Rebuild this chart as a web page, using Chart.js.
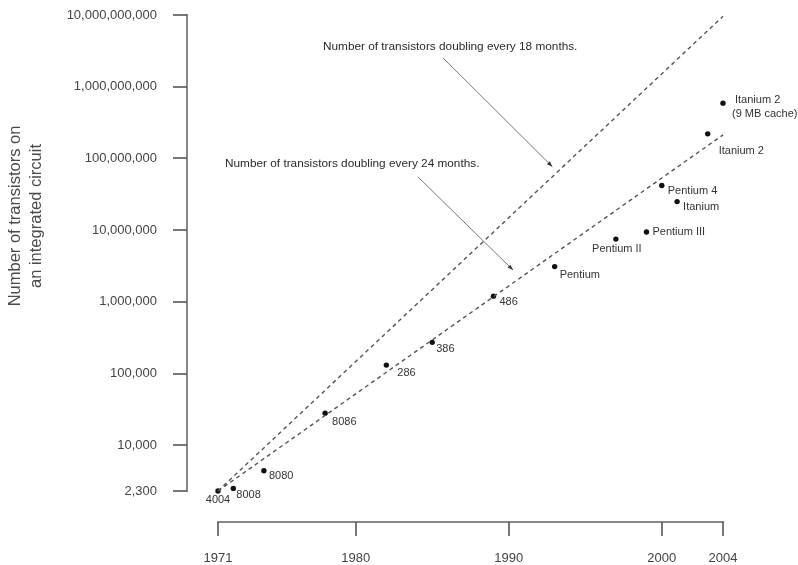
<!DOCTYPE html>
<html>
<head>
<meta charset="utf-8">
<script src="https://cdn.jsdelivr.net/npm/chart.js@4/dist/chart.umd.min.js"></script>
<style>
html,body{margin:0;padding:0;background:#fff}
</style>
</head>
<body>
<canvas id="moore" width="798" height="565"></canvas>
<script>
// chips and transistor counts
const chips=["4004","8008","8080","8086","286","386","486","Pentium","Pentium II","Pentium III","Pentium 4","Itanium","Itanium 2",["Itanium 2","(9 MB cache)"]]
const years=[1971,1972,1974,1978,1982,1985,1989,1993,1997,1999,2000,2001,2003,2004]
const transistors=[2300,2500,4400,28000,131000,272000,1200000,3100000,7500000,9400000,42000000,25000000,220000000,590000000]

// trend lines (start and end)
const trendYears=[1971,2004]
const trend18=[2300,9600000000]
const trend24=[2300,213000000]

const yTicks=[2300,10000,100000,1000000,10000000,100000000,1000000000,10000000000]
const xTicks=[1971,1980,1990,2000,2004]

const yTitle=["Number of transistors on","an integrated circuit"]

// where each chip label sits relative to its dot
const labelPos={
"4004":{dx:0,dy:9,align:"center"},
"8008":{dx:3,dy:7},
"8080":{dx:5,dy:5},
"8086":{dx:7,dy:9},
"286":{dx:11,dy:8},
"386":{dx:4,dy:7},
"486":{dx:6,dy:6},
"Pentium":{dx:5,dy:8},
"Pentium II":{dx:1,dy:10,align:"center"},
"Pentium III":{dx:6,dy:0},
"Pentium 4":{dx:6,dy:6},
"Itanium":{dx:6,dy:5},
"Itanium 2":{dx:11,dy:17},
"Itanium 2 (9 MB cache)":{dx:[12,9],dy:-3}
}

// annotation text + arrow, in [year, log10(count)]
const notes=[
{text:"Number of transistors doubling every 18 months.",at:[1977.86,9.554],tail:[1985.71,9.40],tip:[1992.85,7.884]},
{text:"Number of transistors doubling every 24 months.",at:[1971.46,7.922],tail:[1984.07,7.741],tip:[1990.28,6.443]}
]

const FONT="'Liberation Sans', Arial, Helvetica, sans-serif"

const pts=years.map((y,i)=>({x:y,y:transistors[i]}))
const line18=trendYears.map((y,i)=>({x:y,y:trend18[i]}))
const line24=trendYears.map((y,i)=>({x:y,y:trend24[i]}))

const extras={
id:"extras",
afterDraw(chart){
const ctx=chart.ctx
const xs=chart.scales.x
const ys=chart.scales.y
const area=chart.chartArea
ctx.save()

// detached y axis
let x0=area.left-31
ctx.strokeStyle="#888"
ctx.lineWidth=2
ctx.beginPath()
ctx.moveTo(x0,ys.getPixelForValue(10000000000)-1)
ctx.lineTo(x0,ys.getPixelForValue(2300)+1)
ctx.stroke()
ctx.strokeStyle="#555"
ctx.lineWidth=1.6
yTicks.forEach(v=>{
let py=Math.round(ys.getPixelForValue(v))
ctx.beginPath()
ctx.moveTo(x0-14,py)
ctx.lineTo(x0,py)
ctx.stroke()
})

// detached x axis
let y0=area.bottom+31
ctx.strokeStyle="#888"
ctx.lineWidth=2
ctx.beginPath()
ctx.moveTo(xs.getPixelForValue(1971)-1,y0)
ctx.lineTo(xs.getPixelForValue(2004)+1,y0)
ctx.stroke()
ctx.strokeStyle="#555"
ctx.lineWidth=1.6
xTicks.forEach(v=>{
let px=Math.round(xs.getPixelForValue(v))
ctx.beginPath()
ctx.moveTo(px,y0)
ctx.lineTo(px,y0+14)
ctx.stroke()
})

// y title
ctx.fillStyle="#4a4a4a"
ctx.font="16.5px "+FONT
ctx.textAlign="center"
ctx.textBaseline="middle"
ctx.save()
ctx.translate(15,216)
ctx.rotate(-Math.PI/2)
ctx.fillText(yTitle[0],0,0)
ctx.fillText(yTitle[1],0,21)
ctx.restore()

// chip labels
ctx.fillStyle="#333"
ctx.font="11px "+FONT
ctx.textBaseline="middle"
chips.forEach((c,i)=>{
let key=Array.isArray(c)?c.join(" "):c
let p=labelPos[key]
let px=xs.getPixelForValue(years[i])
let py=ys.getPixelForValue(transistors[i])
ctx.textAlign=p.align||"left"
let lines=Array.isArray(c)?c:[c]
lines.forEach((t,k)=>{
let dx=Array.isArray(p.dx)?p.dx[k]:p.dx
ctx.fillText(t,px+dx,py+p.dy+k*13.4)
})
})

// annotations with arrows
ctx.font="11.8px "+FONT
notes.forEach(n=>{
let tx=xs.getPixelForValue(n.at[0])
let ty=ys.getPixelForValue(Math.pow(10,n.at[1]))
ctx.fillStyle="#2a2a2a"
ctx.textAlign="left"
ctx.fillText(n.text,tx,ty)
let ax=xs.getPixelForValue(n.tail[0]),ay=ys.getPixelForValue(Math.pow(10,n.tail[1]))
let bx=xs.getPixelForValue(n.tip[0]),by=ys.getPixelForValue(Math.pow(10,n.tip[1]))
ctx.strokeStyle="#777"
ctx.lineWidth=1
ctx.beginPath()
ctx.moveTo(ax,ay)
ctx.lineTo(bx,by)
ctx.stroke()
let ang=Math.atan2(by-ay,bx-ax)
ctx.fillStyle="#333"
ctx.beginPath()
ctx.moveTo(bx,by)
ctx.lineTo(bx-6*Math.cos(ang-0.35),by-6*Math.sin(ang-0.35))
ctx.lineTo(bx-6*Math.cos(ang+0.35),by-6*Math.sin(ang+0.35))
ctx.closePath()
ctx.fill()
})

ctx.restore()
}
}

new Chart(document.getElementById("moore"),{
type:"scatter",
data:{
datasets:[
{label:"18 months",data:line18,showLine:true,borderColor:"#555",borderWidth:1.4,borderDash:[4,3.5],pointRadius:0,clip:false},
{label:"24 months",data:line24,showLine:true,borderColor:"#555",borderWidth:1.4,borderDash:[4,3.5],pointRadius:0,clip:false},
{label:"chips",data:pts,pointRadius:2.7,pointBackgroundColor:"#111",pointBorderWidth:0,clip:false}
]
},
options:{
responsive:false,
animation:false,
layout:{padding:{top:15,right:75,left:0,bottom:0}},
plugins:{legend:{display:false},tooltip:{enabled:false}},
scales:{
x:{
type:"linear",
min:1971,
max:2004,
afterFit(s){s.height=74},
afterBuildTicks(s){s.ticks=xTicks.map(v=>({value:v}))},
grid:{display:false,drawTicks:true,tickLength:60},
border:{display:false},
ticks:{padding:0,color:"#444",font:{size:13,family:FONT},callback:v=>String(v),maxRotation:0,autoSkip:false}
},
y:{
type:"logarithmic",
min:2300,
max:10000000000,
afterFit(s){s.width=218},
afterBuildTicks(s){s.ticks=yTicks.map(v=>({value:v}))},
grid:{display:false,drawTicks:true,tickLength:61},
border:{display:false},
ticks:{padding:0,color:"#444",font:{size:13,family:FONT},callback:v=>Number(v).toLocaleString("en-US"),autoSkip:false}
}
}
},
plugins:[extras]
})
</script>
</body>
</html>
